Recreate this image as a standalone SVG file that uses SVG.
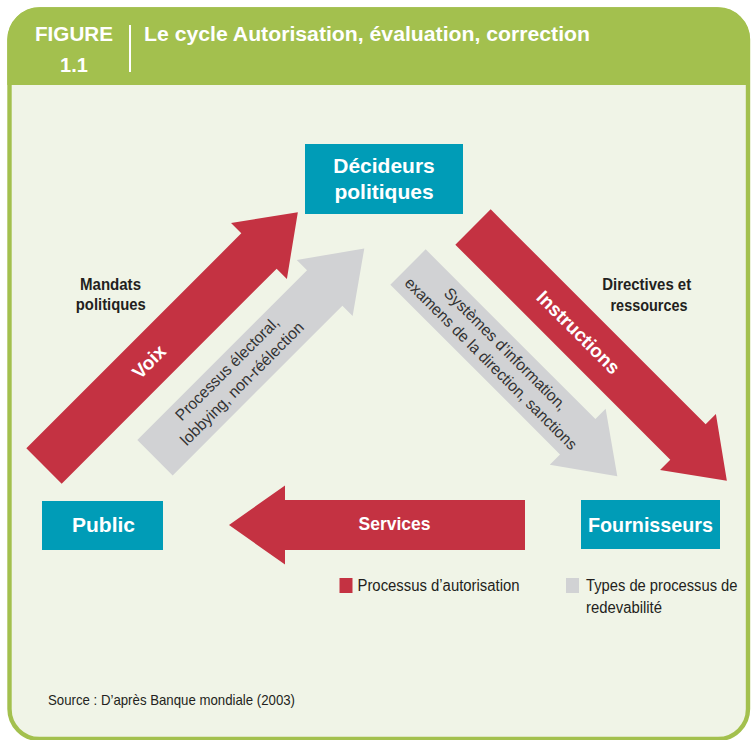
<svg xmlns="http://www.w3.org/2000/svg" xmlns:xlink="http://www.w3.org/1999/xlink" width="752" height="740" viewBox="0 0 752 740">
  <style>
    .frame { fill: #f0f4e7; stroke: #a3c04e; stroke-width: 4.4; }
    .header { fill: #a3c04e; }
    .hdr { font-family: "Liberation Sans", Arial, sans-serif; font-weight: bold; fill: #ffffff; font-size: 20px; }
    .node rect { fill: #009cb7; }
    .node text { font-family: "Liberation Sans", Arial, sans-serif; font-weight: bold; fill: #ffffff; font-size: 21px; text-anchor: middle; }
    .red { fill: #c43242; }
    .grey { fill: #d1d2d4; }
    .albl { font-family: "Liberation Sans Narrow", "Liberation Sans", Arial, sans-serif; font-weight: bold; fill: #ffffff; font-size: 19px; text-anchor: middle; }
    .glbl { font-family: "Liberation Sans Narrow", "Liberation Sans", Arial, sans-serif; fill: #333333; font-size: 16px; text-anchor: middle; }
    .side { font-family: "Liberation Sans Narrow", "Liberation Sans", Arial, sans-serif; font-weight: bold; fill: #231f20; font-size: 17px; text-anchor: middle; }
    .leg { font-family: "Liberation Sans Narrow", "Liberation Sans", Arial, sans-serif; fill: #231f20; font-size: 16px; }
    .src { font-family: "Liberation Sans Narrow", "Liberation Sans", Arial, sans-serif; fill: #231f20; font-size: 15px; }
  </style>
  <defs>
    <polygon id="arrowLong" points="0,-25 304,-25 304,-39.5 359,0 304,39.5 304,25 0,25"/>
    <polygon id="arrowShort" points="0,-25 240,-25 240,-39.5 296,0 240,39.5 240,25 0,25"/>
  </defs>

  <!-- Frame -->
  <rect class="frame" x="9.5" y="9.5" width="738.5" height="729.5" rx="30"/>
  <path class="header" d="M7.3,85 V40 A33,33 0 0 1 40.3,7.3 H717 A33,33 0 0 1 750,40.3 V85 Z"/>

  <!-- Header -->
  <g id="header">
    <text class="hdr" x="35" y="41" textLength="78" lengthAdjust="spacingAndGlyphs">FIGURE</text>
    <text class="hdr" x="74" y="71.5" text-anchor="middle">1.1</text>
    <line x1="130" y1="25" x2="130" y2="72" stroke="#ffffff" stroke-width="2"/>
    <text class="hdr" x="144" y="40.5" font-size="20.5" textLength="446" lengthAdjust="spacingAndGlyphs">Le cycle Autorisation, évaluation, correction</text>
  </g>

  <!-- Connectors -->
  <g id="connectors">
    <g id="voix" transform="translate(44,466) rotate(-45)">
      <use xlink:href="#arrowLong" href="#arrowLong" class="red"/>
      <text class="albl" x="148" y="7">Voix</text>
    </g>
    <g id="processus" transform="translate(155,457.7) rotate(-45)">
      <use xlink:href="#arrowShort" href="#arrowShort" class="grey"/>
      <text class="glbl" x="114" y="-6.5" textLength="139" lengthAdjust="spacingAndGlyphs">Processus électoral,</text>
      <text class="glbl" x="114" y="14.5" textLength="167" lengthAdjust="spacingAndGlyphs">lobbying, non-réélection</text>
    </g>
    <g id="instructions" transform="translate(473,227) rotate(45)">
      <use xlink:href="#arrowLong" href="#arrowLong" class="red"/>
      <text class="albl" x="149" y="6.5">Instructions</text>
    </g>
    <g id="systemes" transform="translate(408,267) rotate(45)">
      <use xlink:href="#arrowShort" href="#arrowShort" class="grey"/>
      <text class="glbl" x="127" y="-5.5" textLength="166" lengthAdjust="spacingAndGlyphs">Systèmes d’information,</text>
      <text class="glbl" x="127" y="15" textLength="236" lengthAdjust="spacingAndGlyphs">examens de la direction, sanctions</text>
    </g>
    <g id="services" transform="translate(525,525)">
      <use xlink:href="#arrowShort" href="#arrowShort" class="red" transform="rotate(180)"/>
      <text class="albl" x="-130.5" y="4.5" textLength="72" lengthAdjust="spacingAndGlyphs">Services</text>
    </g>
  </g>

  <!-- Nodes -->
  <g id="decideurs" class="node">
    <rect x="305" y="144" width="158" height="70"/>
    <text x="384" y="173.3">Décideurs</text>
    <text x="384" y="199.3">politiques</text>
  </g>
  <g id="public" class="node">
    <rect x="42" y="501" width="121" height="49"/>
    <text x="103.5" y="532">Public</text>
  </g>
  <g id="fournisseurs" class="node">
    <rect x="581" y="500" width="139" height="49"/>
    <text x="650.5" y="532" textLength="125" lengthAdjust="spacingAndGlyphs">Fournisseurs</text>
  </g>

  <!-- Side labels -->
  <g id="mandats">
    <text class="side" x="110.5" y="290" textLength="61" lengthAdjust="spacingAndGlyphs">Mandats</text>
    <text class="side" x="110.8" y="310" textLength="70" lengthAdjust="spacingAndGlyphs">politiques</text>
  </g>
  <g id="directives">
    <text class="side" x="646.7" y="290" textLength="89" lengthAdjust="spacingAndGlyphs">Directives et</text>
    <text class="side" x="649" y="310.5" textLength="77" lengthAdjust="spacingAndGlyphs">ressources</text>
  </g>

  <!-- Legend -->
  <g id="legend">
    <rect class="red" x="339.5" y="578" width="13" height="15"/>
    <text class="leg" x="357.5" y="591" textLength="162" lengthAdjust="spacingAndGlyphs">Processus d’autorisation</text>
    <rect class="grey" x="566" y="578" width="13" height="15"/>
    <text class="leg" x="586" y="591" textLength="151.5" lengthAdjust="spacingAndGlyphs">Types de processus de</text>
    <text class="leg" x="586" y="612.7" textLength="76" lengthAdjust="spacingAndGlyphs">redevabilité</text>
  </g>

  <!-- Source -->
  <text class="src" x="48" y="705" textLength="247" lengthAdjust="spacingAndGlyphs">Source : D’après Banque mondiale (2003)</text>
</svg>
